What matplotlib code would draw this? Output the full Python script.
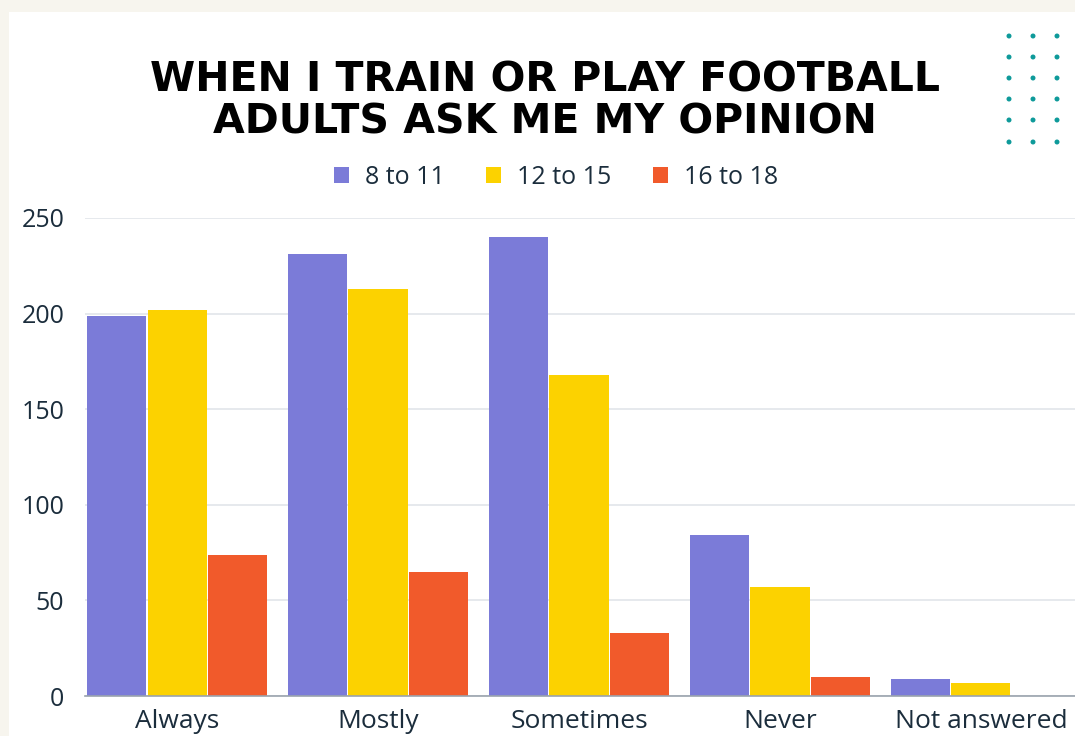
import matplotlib
matplotlib.use("Agg")
import matplotlib.pyplot as plt
import numpy as np
from matplotlib.patches import Rectangle, Ellipse

# ---------------------------------------------------------------------------
# Survey data
# ---------------------------------------------------------------------------

categories = ["Always", "Mostly", "Sometimes", "Never", "Not answered"]
age_groups = ["8 to 11", "12 to 15", "16 to 18"]
ages_8_11 = [199, 231, 240, 84, 9]
ages_12_15 = [202, 213, 168, 57, 7]
ages_16_18 = [74, 65, 33, 10, 0]
y_ticks = [0, 50, 100, 150, 200, 250]

title_lines = ["WHEN I TRAIN OR PLAY FOOTBALL", "ADULTS ASK ME MY OPINION"]

COLORS = ["#7b7bd8", "#fcd200", "#f15a2b"]
TEXT = "#1b2d3c"
FONT = ["Open Sans", "DejaVu Sans"]

# ---------------------------------------------------------------------------
# Figure
# ---------------------------------------------------------------------------

W, H = 1075, 736
fig = plt.figure(figsize=(W / 100, H / 100), dpi=100)
fig.patch.set_facecolor("#f7f5ee")

# white card behind everything
fig.patches.append(Rectangle((9 / W, 0), 1 - 9 / W, (H - 12) / H,
                             transform=fig.transFigure, facecolor="white",
                             edgecolor="none", zorder=-5))

# decorative dot grid, top right
for cx in (1009, 1033, 1057):
    for cy in (36, 57, 78, 99, 120, 142):
        fig.patches.append(Ellipse((cx / W, 1 - cy / H), 5 / W, 5 / H,
                                   transform=fig.transFigure,
                                   facecolor="#0e9a9a", edgecolor="none",
                                   zorder=-4))

for i, line in enumerate(title_lines):
    fig.text(545 / W, 1 - (80 + 42 * i) / H, line, ha="center", va="center",
             fontsize=29.5, fontweight="heavy", color="black",
             family=["DejaVu Sans"])

ax = fig.add_axes([85 / W, 1 - 696 / H, 1 - 85 / W, (696 - 218) / H])
ax.set_facecolor("none")

x = np.arange(len(categories))
step = 0.303
width = 0.294
series = [ages_8_11, ages_12_15, ages_16_18]
for k, (vals, name, col) in enumerate(zip(series, age_groups, COLORS)):
    ax.bar(x + (k - 1) * step, vals, width=width, color=col, label=name,
           zorder=3)

ax.set_xlim(-0.458, 4.468)
ax.set_ylim(0, 250)
ax.set_yticks(y_ticks)
ax.set_xticks(x)
ax.set_xticklabels(categories)
ax.grid(axis="y", color="#dfe3e8", linewidth=1.1, zorder=0)
ax.set_axisbelow(True)
for s in ("top", "right", "left"):
    ax.spines[s].set_visible(False)
ax.spines["bottom"].set_color("#9aa3ad")
ax.spines["bottom"].set_linewidth(1.2)
ax.spines["bottom"].set_zorder(4)
ax.tick_params(length=0, labelcolor=TEXT)
ax.tick_params(axis="y", pad=15, labelsize=18)
ax.tick_params(axis="x", pad=9, labelsize=19)
for lab in ax.get_xticklabels() + ax.get_yticklabels():
    lab.set_family(FONT)

leg = fig.legend(loc="center", bbox_to_anchor=(556 / W, 1 - 177 / H), ncol=3,
                 frameon=False, handlelength=0.6, handleheight=0.6,
                 handletextpad=0.64, columnspacing=1.65,
                 prop={"family": FONT, "size": 18})
for t in leg.get_texts():
    t.set_color(TEXT)

fig.savefig("out.png", dpi=100)
